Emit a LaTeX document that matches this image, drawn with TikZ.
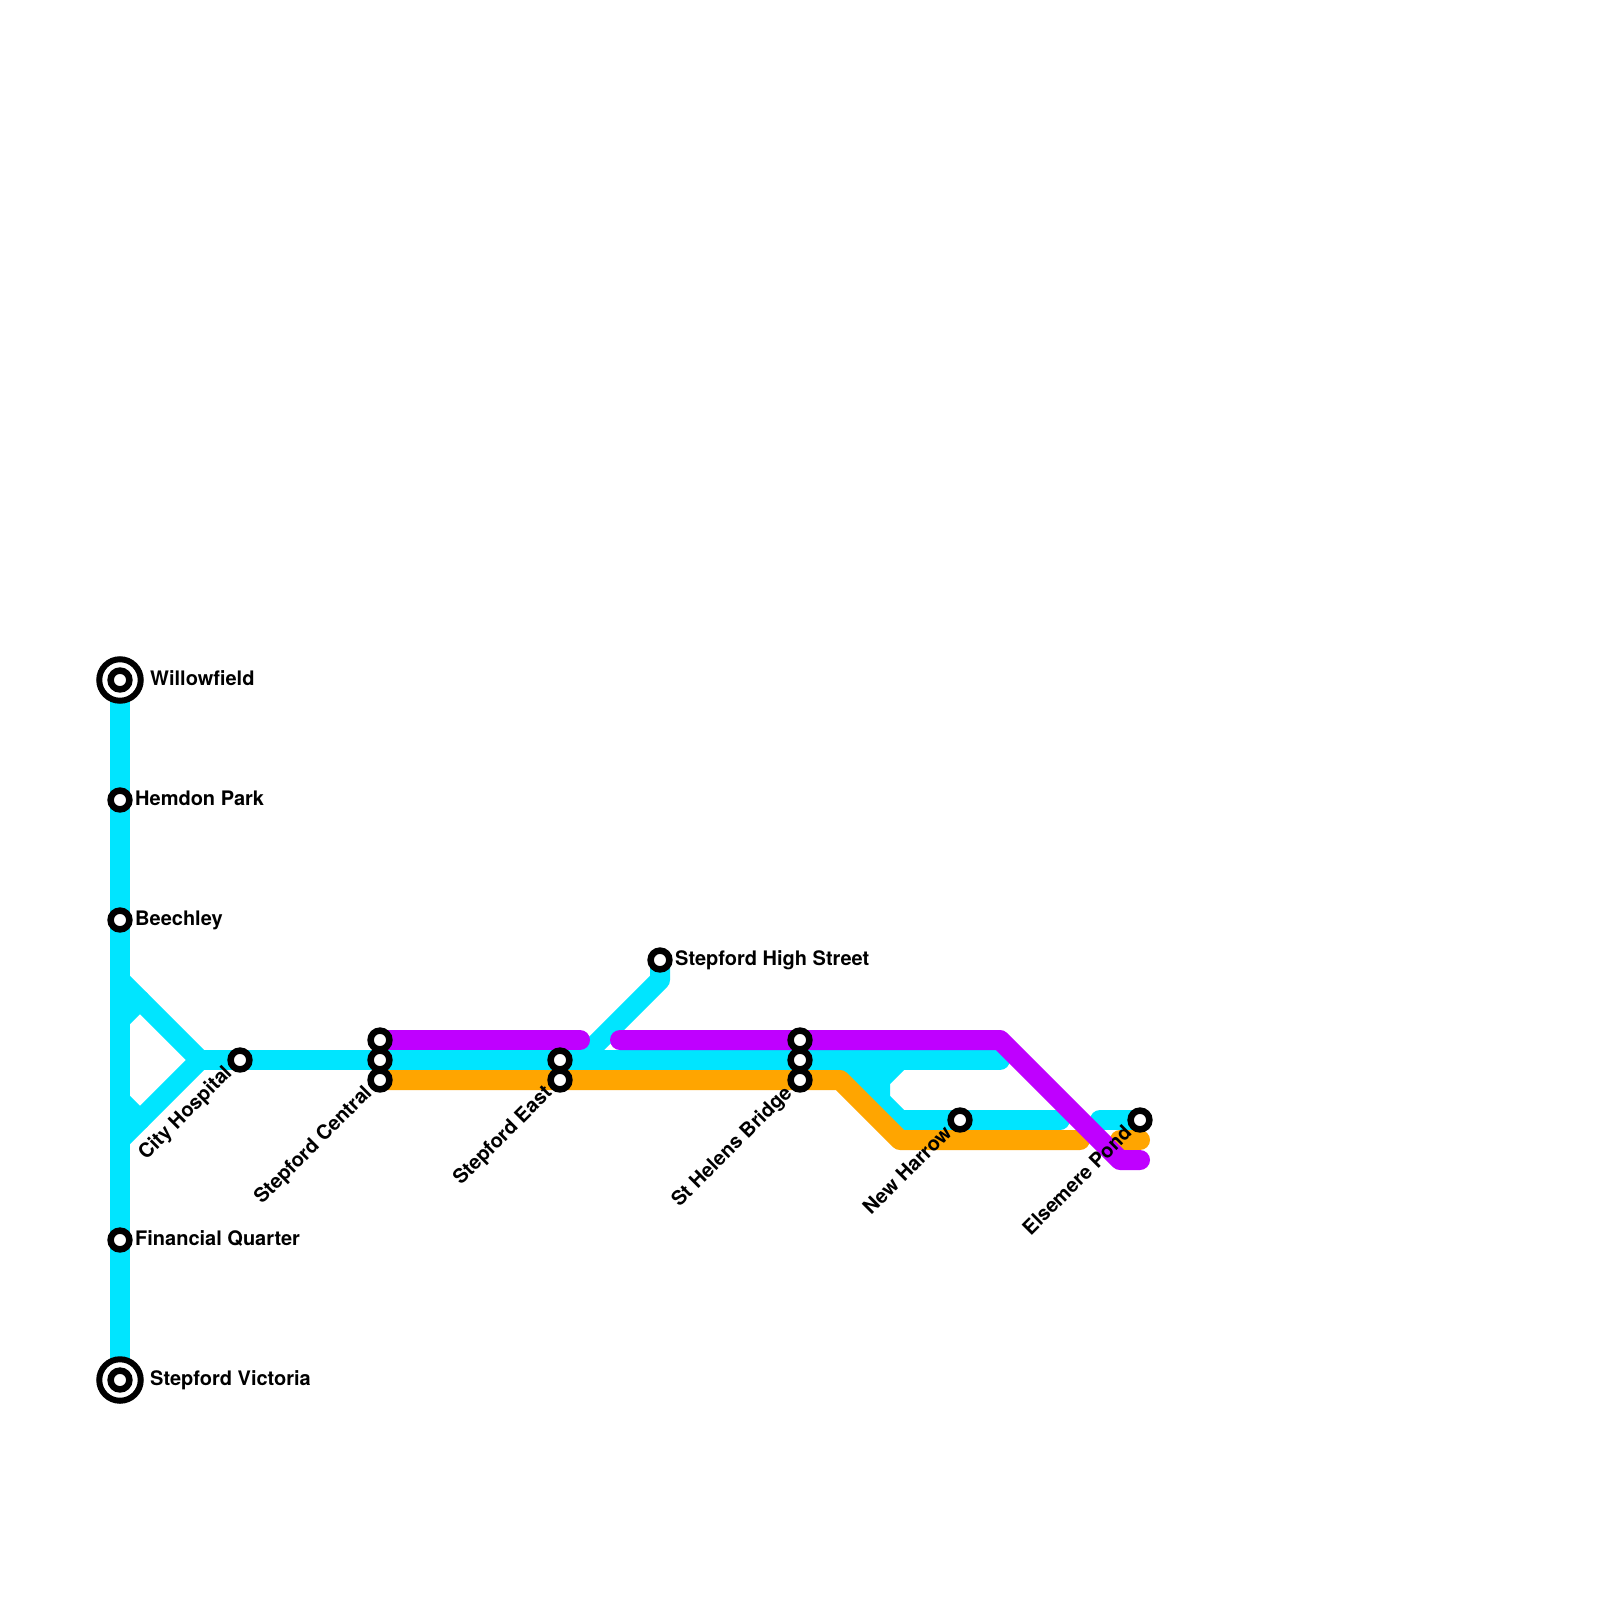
\documentclass[tikz,border=0pt]{standalone}
\usepackage{fontspec}
\setmainfont{TeX Gyre Heros}
\definecolor{lineblue}{HTML}{00E5FF}
\definecolor{linepurple}{HTML}{BF00FF}
\definecolor{lineorange}{HTML}{FFA500}
\tikzset{
  route/.style={line width=20pt,line join=round,line cap=round},
  routeblue/.style={route,draw=lineblue},
  routepurple/.style={route,draw=linepurple},
  routeorange/.style={route,draw=lineorange},
  stn/.style={circle,draw=black,fill=white,line width=6.5pt,minimum size=18.8pt,inner sep=0pt},
  termring/.style={circle,draw=black,fill=white,line width=6pt,minimum size=41.5pt,inner sep=0pt},
  lbl/.style={font=\bfseries\fontsize{20}{24}\selectfont,text=black,inner sep=0pt},
  lblright/.style={lbl,anchor=base west},
  lbldiag/.style={lbl,anchor=base east,rotate=45},
}
\begin{document}
\begin{tikzpicture}[x=1pt,y=-1pt]
\useasboundingbox[fill=white] (0,0) rectangle (1600,1600);
% station positions and bends
\coordinate (willow) at (120,680);
\coordinate (hemdon) at (120,800);
\coordinate (beech) at (120,920);
\coordinate (fin) at (120,1240);
\coordinate (vic) at (120,1380);
\coordinate (j1) at (120,980);
\coordinate (j2) at (120,1140);
\coordinate (j3) at (200,1060);
\coordinate (s1a) at (120,1020);
\coordinate (s1b) at (140,1000);
\coordinate (s2a) at (120,1100);
\coordinate (s2b) at (140,1120);
\coordinate (city) at (240,1060);
\coordinate (centP) at (380,1040);
\coordinate (centB) at (380,1060);
\coordinate (centO) at (380,1080);
\coordinate (eastB) at (560,1060);
\coordinate (eastO) at (560,1080);
\coordinate (high) at (660,960);
\coordinate (highb) at (660,980);
\coordinate (highj) at (580,1060);
\coordinate (helP) at (800,1040);
\coordinate (helB) at (800,1060);
\coordinate (helO) at (800,1080);
\coordinate (pEnd) at (580,1040);
\coordinate (pStart) at (620,1040);
\coordinate (pBend) at (1000,1040);
\coordinate (pLow) at (1120,1160);
\coordinate (pTail) at (1140,1160);
\coordinate (bEnd) at (1000,1060);
\coordinate (bj) at (840,1060);
\coordinate (bFill) at (860,1060);
\coordinate (bLow) at (900,1120);
\coordinate (bTop) at (900,1060);
\coordinate (bMid) at (880,1080);
\coordinate (bMid2) at (880,1100);
\coordinate (harrow) at (960,1120);
\coordinate (bEnd2) at (1060,1120);
\coordinate (bStart3) at (1100,1120);
\coordinate (elsB) at (1140,1120);
\coordinate (oBend) at (840,1080);
\coordinate (oLow) at (900,1140);
\coordinate (oEnd) at (1080,1140);
\coordinate (oStart2) at (1120,1140);
\coordinate (oTail) at (1140,1140);
% routes
\draw[routeblue] (high) -- (highb) -- (highj);
\draw[route,draw=lineblue,line cap=butt] (willow) -- (vic);
\draw[routeblue] (j1) -- (j3) -- (j2);
\draw[routeblue] (s1a) -- (s1b);
\draw[routeblue] (s2a) -- (s2b);
\draw[routeblue] (j3) -- (bEnd);
\draw[routeblue] (bj) -- (bLow) -- (bEnd2);
\draw[routeblue] (bFill) -- (bMid);
\draw[routeblue] (bTop) -- (bMid) -- (bMid2);
\draw[routeblue] (bStart3) -- (elsB);
\draw[routeorange] (centO) -- (oBend) -- (oLow) -- (oEnd);
\draw[routeorange] (oStart2) -- (oTail);
\draw[routepurple] (centP) -- (pEnd);
\draw[routepurple] (pStart) -- (helP) -- (pBend) -- (pLow) -- (pTail);
% stations
\node[termring] (nWillow) at (willow) {};
\node[stn] (nWillowI) at (willow) {};
\node[termring] (nVic) at (vic) {};
\node[stn] (nVicI) at (vic) {};
\node[stn] (nHemdon) at (hemdon) {};
\node[stn] (nBeech) at (beech) {};
\node[stn] (nFin) at (fin) {};
\node[stn] (nCity) at (city) {};
\node[stn] (nCentP) at (centP) {};
\node[stn] (nCentB) at (centB) {};
\node[stn] (nCentO) at (centO) {};
\node[stn] (nEastB) at (eastB) {};
\node[stn] (nEastO) at (eastO) {};
\node[stn] (nHigh) at (high) {};
\node[stn] (nHelP) at (helP) {};
\node[stn] (nHelB) at (helB) {};
\node[stn] (nHelO) at (helO) {};
\node[stn] (nHarrow) at (harrow) {};
\node[stn] (nEls) at (elsB) {};
% labels
\node[lblright] (tWillow) at (150,685) {Willowfield};
\node[lblright] (tHemdon) at (135,805) {Hemdon Park};
\node[lblright] (tBeech) at (135,925) {Beechley};
\node[lblright] (tFin) at (135,1245) {Financial Quarter};
\node[lblright] (tVic) at (150,1385) {Stepford Victoria};
\node[lblright] (tHigh) at (675,965) {Stepford High Street};
\node[lbldiag] (tCity) at (233,1074) {City Hospital};
\node[lbldiag] (tCent) at (373,1094) {Stepford Central};
\node[lbldiag] (tEast) at (553,1094) {Stepford East};
\node[lbldiag] (tHel) at (793,1094) {St Helens Bridge};
\node[lbldiag] (tHarrow) at (953,1134) {New Harrow};
\node[lbldiag] (tEls) at (1133,1134) {Elsemere Pond};
\end{tikzpicture}
\end{document}
